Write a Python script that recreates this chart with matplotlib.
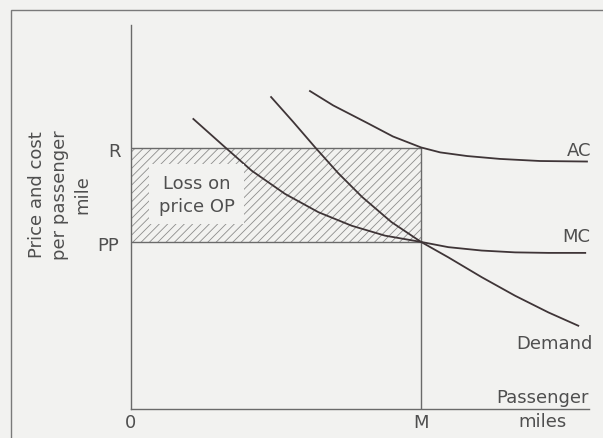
import matplotlib
matplotlib.use("Agg")
import matplotlib.pyplot as plt
from matplotlib.patches import Rectangle

# Curve points (x = passenger miles, y = price/cost)
ac_x = [6.17, 6.97, 8.14, 9.03, 10.0, 10.66, 11.59, 12.72, 14.10, 15.72]
ac_y = [12.18, 11.63, 10.96, 10.44, 10.02, 9.83, 9.69, 9.58, 9.50, 9.48]

mc_x = [2.15, 3.24, 4.16, 5.31, 6.46, 7.61, 8.76, 10.0, 10.94, 12.09, 13.24, 14.39, 15.66]
mc_y = [11.11, 10.03, 9.13, 8.24, 7.54, 7.02, 6.64, 6.40, 6.20, 6.07, 6.00, 5.98, 5.98]

dem_x = [4.83, 5.59, 6.35, 7.14, 7.97, 8.98, 10.0, 10.94, 12.09, 13.24, 14.39, 15.42]
dem_y = [11.95, 11.0, 10.02, 9.04, 8.12, 7.16, 6.40, 5.81, 5.05, 4.34, 3.70, 3.19]

M = 10.0     # passenger miles at the intersection
R = 10.0     # average cost at M
PP = 6.40    # price at M

BG = "#f2f2f0"
INK = "#3f3537"
TXT = "#4f4f4f"
AXC = "#6a6a6a"

plt.rcParams.update({
    "font.family": "DejaVu Sans",
    "font.size": 13,
    "hatch.linewidth": 0.6,
})

fig = plt.figure(figsize=(6.03, 4.39), dpi=100)
fig.patch.set_facecolor(BG)
ax = fig.add_axes([131 / 603, 29 / 439, 458 / 603, 384 / 439])
ax.set_facecolor("none")
ax.set_xlim(0, 15.79)
ax.set_ylim(0, 14.71)
for s in ("top", "right"):
    ax.spines[s].set_visible(False)
for s in ("left", "bottom"):
    ax.spines[s].set_color(AXC)
    ax.spines[s].set_linewidth(1.0)
ax.set_xticks([])
ax.set_yticks([])

# loss area
ax.fill_between([0, M], PP, R, facecolor="none", edgecolor="#8c8c8c",
                hatch="////", linewidth=0)
ax.plot([0, M], [R, R], color=AXC, lw=1.0)
ax.plot([0, M], [PP, PP], color=AXC, lw=1.0)
ax.plot([M, M], [0, R], color=AXC, lw=1.0)

ax.text(2.26, 8.22, "Loss on\nprice OP", ha="center", va="center",
        color=TXT, linespacing=1.3,
        bbox=dict(boxstyle="square,pad=0.55", facecolor=BG, edgecolor="none"))

# curves
ax.plot(ac_x, ac_y, color=INK, lw=1.3)
ax.plot(mc_x, mc_y, color=INK, lw=1.3)
ax.plot(dem_x, dem_y, color=INK, lw=1.3)

ax.text(15.86, 9.92, "AC", ha="right", va="center", color=TXT, clip_on=False)
ax.text(15.83, 6.64, "MC", ha="right", va="center", color=TXT, clip_on=False)
ax.text(15.9, 2.53, "Demand", ha="right", va="center", color=TXT, clip_on=False)
ax.text(15.79, 0.46, "Passenger", ha="right", va="center", color=TXT, clip_on=False)
ax.text(14.17, -0.46, "miles", ha="center", va="center", color=TXT, clip_on=False)

ax.text(-0.34, R - 0.1, "R", ha="right", va="center", color=TXT, clip_on=False)
ax.text(-0.41, PP - 0.1, "PP", ha="right", va="center", color=TXT, clip_on=False)
ax.text(0, -0.5, "0", ha="center", va="center", color=TXT, clip_on=False)
ax.text(M, -0.5, "M", ha="center", va="center", color=TXT, clip_on=False)

ax.text(-2.45, 8.24, "Price and cost\nper passenger\nmile", rotation=90,
        ha="center", va="center", multialignment="center", linespacing=1.35,
        color=TXT, clip_on=False)

# page frame
fig.add_artist(Rectangle((11 / 603, -0.05), 1.1, 1.05 - 11 / 439,
                         transform=fig.transFigure, fill=False,
                         edgecolor="#7a7a7a", linewidth=1.0))

fig.savefig("out.png", dpi=100, facecolor=fig.get_facecolor())
